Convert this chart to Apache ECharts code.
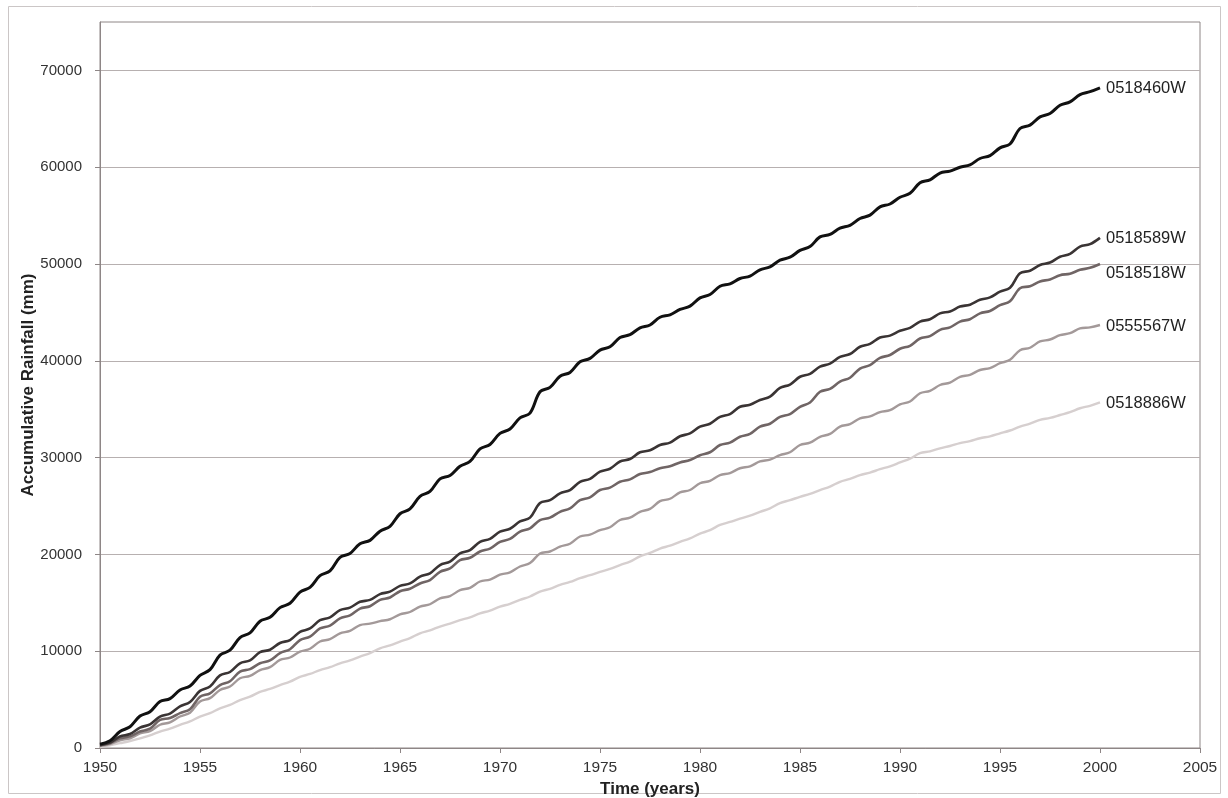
<!DOCTYPE html>
<html>
<head>
<meta charset="utf-8">
<title>Accumulative Rainfall</title>
<script src="https://cdn.jsdelivr.net/npm/echarts@6/dist/echarts.min.js"></script>
<style>
  html, body { margin: 0; padding: 0; background: #ffffff; }
  #chart { width: 1228px; height: 798px; }
</style>
</head>
<body>
<div id="chart"></div>
<script>
// Station names, in drawing order (lightest line first, darkest on top)
const stations = ['0518886W', '0555567W', '0518518W', '0518589W', '0518460W'];

// Year-end accumulative rainfall (mm), 1950 .. 2000
const years = [1950, 1951, 1952, 1953, 1954, 1955, 1956, 1957, 1958, 1959,
  1960, 1961, 1962, 1963, 1964, 1965, 1966, 1967, 1968, 1969,
  1970, 1971, 1972, 1973, 1974, 1975, 1976, 1977, 1978, 1979,
  1980, 1981, 1982, 1983, 1984, 1985, 1986, 1987, 1988, 1989,
  1990, 1991, 1992, 1993, 1994, 1995, 1996, 1997, 1998, 1999, 2000];

const yearly_0518460W = [400, 1700, 3300, 4800, 6000, 7500, 9600, 11400, 13100, 14500,
  16100, 17800, 19700, 21100, 22400, 24200, 26000, 27800, 29100, 30900,
  32500, 34100, 36800, 38400, 39900, 41100, 42400, 43400, 44500, 45300,
  46500, 47700, 48500, 49400, 50400, 51400, 52800, 53700, 54700, 55900,
  56900, 58400, 59400, 60000, 60900, 62000, 64000, 65200, 66400, 67500, 68200];
const yearly_0518589W = [300, 1200, 2100, 3250, 4300, 5900, 7500, 8750, 9900, 10850,
  12000, 13200, 14250, 15100, 15900, 16750, 17700, 18900, 20100, 21300,
  22350, 23400, 25300, 26300, 27500, 28550, 29600, 30550, 31300, 32200,
  33200, 34200, 35250, 35950, 37200, 38350, 39400, 40400, 41450, 42400,
  43100, 44050, 44900, 45600, 46300, 47150, 49050, 49900, 50750, 51800, 52700];
const yearly_0518518W = [300, 1000, 1700, 2900, 3600, 5300, 6500, 7900, 8750, 9800,
  11150, 12350, 13400, 14400, 15300, 16200, 17000, 18200, 19400, 20300,
  21300, 22350, 23550, 24400, 25600, 26650, 27500, 28300, 28900, 29500,
  30250, 31300, 32150, 33200, 34200, 35250, 36800, 37850, 39200, 40300,
  41250, 42300, 43200, 44050, 44900, 45750, 47500, 48200, 48850, 49400, 50000];
const yearly_0555567W = [200, 800, 1500, 2400, 3250, 4800, 6000, 7200, 8050, 9100,
  9950, 11000, 11850, 12700, 13100, 13800, 14600, 15450, 16300, 17200,
  17900, 18750, 20100, 20800, 21850, 22500, 23550, 24400, 25500, 26400,
  27350, 28200, 28900, 29600, 30250, 31300, 32150, 33200, 34050, 34700,
  35500, 36650, 37500, 38350, 39050, 39750, 41100, 42000, 42650, 43350, 43700];
const yearly_0518886W = [100, 500, 1000, 1700, 2400, 3250, 4100, 4950, 5800, 6500,
  7350, 8050, 8750, 9450, 10300, 11000, 11850, 12550, 13200, 13900,
  14600, 15300, 16150, 16850, 17550, 18200, 18900, 19800, 20600, 21300,
  22150, 23050, 23700, 24400, 25300, 25950, 26650, 27500, 28200, 28800,
  29500, 30450, 30950, 31500, 32000, 32500, 33200, 33900, 34400, 35100, 35700];

// Mid-year accumulative rainfall (mm), 1950.5 .. 1999.5 (end of the dry half-year)
const midYears = [1950.5, 1951.5, 1952.5, 1953.5, 1954.5, 1955.5, 1956.5, 1957.5, 1958.5, 1959.5,
  1960.5, 1961.5, 1962.5, 1963.5, 1964.5, 1965.5, 1966.5, 1967.5, 1968.5, 1969.5,
  1970.5, 1971.5, 1972.5, 1973.5, 1974.5, 1975.5, 1976.5, 1977.5, 1978.5, 1979.5,
  1980.5, 1981.5, 1982.5, 1983.5, 1984.5, 1985.5, 1986.5, 1987.5, 1988.5, 1989.5,
  1990.5, 1991.5, 1992.5, 1993.5, 1994.5, 1995.5, 1996.5, 1997.5, 1998.5, 1999.5];

const mid_0518460W = [750, 2200, 3750, 5100, 6400, 8100, 10100, 11900, 13500, 14950,
  16600, 18300, 20100, 21450, 22900, 24700, 26500, 28150, 29600, 31350,
  32950, 34600, 37250, 38800, 40250, 41450, 42700, 43700, 44750, 45650,
  46850, 47950, 48750, 49700, 50700, 51800, 53050, 54000, 55050, 56200,
  57300, 58700, 59600, 60250, 61200, 62400, 64350, 65550, 66750, 67800];
const mid_0518589W = [550, 1450, 2450, 3550, 4750, 6350, 7850, 9050, 10150, 11150,
  12350, 13500, 14500, 15300, 16150, 17000, 18050, 19250, 20450, 21600,
  22650, 23800, 25600, 26650, 27800, 28850, 29850, 30750, 31550, 32500,
  33500, 34500, 35450, 36300, 37550, 38650, 39700, 40700, 41750, 42600,
  43400, 44300, 45100, 45800, 46550, 47550, 49300, 50150, 51050, 52050];
const mid_0518518W = [500, 1200, 2000, 3100, 4000, 5650, 6900, 8150, 9050, 10200,
  11500, 12650, 13700, 14650, 15550, 16450, 17350, 18550, 19650, 20600,
  21600, 22700, 23800, 24750, 25900, 26900, 27750, 28500, 29100, 29750,
  30550, 31550, 32450, 33500, 34500, 35700, 37100, 38250, 39550, 40600,
  41550, 42550, 43450, 44300, 45150, 46150, 47700, 48400, 49000, 49600];
const mid_0555567W = [400, 1000, 1750, 2650, 3650, 5150, 6350, 7450, 8350, 9350,
  10250, 11250, 12100, 12850, 13300, 14050, 14850, 15700, 16550, 17400,
  18150, 19100, 20300, 21100, 22050, 22800, 23800, 24700, 25750, 26650,
  27600, 28400, 29100, 29800, 30550, 31550, 32450, 33450, 34250, 34900,
  35800, 36900, 37750, 38550, 39250, 40100, 41350, 42200, 42850, 43450];
const mid_0518886W = [280, 720, 1300, 2000, 2750, 3600, 4450, 5300, 6100, 6850,
  7650, 8350, 9050, 9800, 10600, 11350, 12150, 12850, 13500, 14200,
  14900, 15650, 16450, 17150, 17850, 18500, 19250, 20150, 20900, 21650,
  22500, 23350, 24000, 24750, 25600, 26250, 27000, 27800, 28450, 29100,
  29900, 30650, 31200, 31700, 32200, 32800, 33500, 34100, 34700, 35350];

// Axis tick labels
const xTicks = [1950, 1955, 1960, 1965, 1970, 1975, 1980, 1985, 1990, 1995, 2000, 2005];
const yTicks = [0, 10000, 20000, 30000, 40000, 50000, 60000, 70000];

const yearlyByStation = {
  '0518460W': yearly_0518460W, '0518589W': yearly_0518589W, '0518518W': yearly_0518518W,
  '0555567W': yearly_0555567W, '0518886W': yearly_0518886W
};
const midByStation = {
  '0518460W': mid_0518460W, '0518589W': mid_0518589W, '0518518W': mid_0518518W,
  '0555567W': mid_0555567W, '0518886W': mid_0518886W
};

// Line styling per station
const lineColor = {
  '0518460W': '#111111', '0518589W': '#3a3434', '0518518W': '#706565',
  '0555567W': '#a39999', '0518886W': '#d6cfcf'
};
const lineWidth = {
  '0518460W': 3, '0518589W': 2.6, '0518518W': 2.6, '0555567W': 2.4, '0518886W': 2.4
};
const labelOffset = {
  '0518460W': [0, 1], '0518589W': [0, 1], '0518518W': [0, 9], '0555567W': [0, 1], '0518886W': [0, 1]
};

// Interleave year-end and mid-year readings into one time-ordered list
function seriesPoints(name) {
  const ys = yearlyByStation[name], ms = midByStation[name];
  const pts = [];
  for (let i = 0; i < years.length; i++) {
    pts.push([years[i], ys[i]]);
    if (i < midYears.length) pts.push([midYears[i], ms[i]]);
  }
  return pts;
}

const FONT = '"Liberation Sans", Arial, sans-serif';
const chart = echarts.init(document.getElementById('chart'), null, { renderer: 'canvas' });

chart.setOption({
  animation: false,
  backgroundColor: '#ffffff',
  graphic: [{
    type: 'rect',
    shape: { x: 8.5, y: 6.5, width: 1212, height: 787 },
    style: { fill: 'none', stroke: '#cbc6c6', lineWidth: 1 },
    silent: true, z: -1
  }],
  grid: {
    left: 100, right: 28, top: 22, bottom: 50,
    outerBoundsMode: 'none',
    show: true, borderColor: '#8e8686', borderWidth: 1, backgroundColor: 'transparent'
  },
  xAxis: {
    type: 'value',
    min: xTicks[0], max: xTicks[xTicks.length - 1], interval: 5,
    name: 'Time (years)',
    nameLocation: 'middle', nameGap: 33, nameMoveOverlap: false,
    nameTextStyle: { fontFamily: FONT, fontWeight: 'bold', fontSize: 17, color: '#222' },
    axisLine: { show: true, lineStyle: { color: '#8e8686', width: 1 } },
    axisTick: { show: true, length: 5, lineStyle: { color: '#8e8686' } },
    axisLabel: {
      fontFamily: FONT, fontSize: 15.5, color: '#333', margin: 12,
      formatter: v => (xTicks.indexOf(v) >= 0 ? String(v) : '')
    },
    splitLine: { show: false }
  },
  yAxis: {
    type: 'value',
    min: yTicks[0], max: 75000, interval: 10000,
    name: 'Accumulative Rainfall (mm)',
    nameLocation: 'middle', nameGap: 63, nameRotate: 90, nameMoveOverlap: false,
    nameTextStyle: { fontFamily: FONT, fontWeight: 'bold', fontSize: 17, color: '#222' },
    axisLine: { show: true, lineStyle: { color: '#8e8686', width: 1 } },
    axisTick: { show: true, length: 5, customValues: yTicks, lineStyle: { color: '#8e8686' } },
    axisLabel: {
      fontFamily: FONT, fontSize: 15, color: '#333', margin: 18,
      customValues: yTicks,
      formatter: v => String(v)
    },
    splitLine: { show: true, lineStyle: { color: '#b7b0b0', width: 1 } }
  },
  series: stations.map(name => ({
    name: name,
    type: 'line',
    data: seriesPoints(name),
    showSymbol: false,
    smooth: 0.35,
    lineStyle: { color: lineColor[name], width: lineWidth[name] },
    itemStyle: { color: lineColor[name] },
    endLabel: {
      show: true,
      formatter: '{a}',
      distance: 6,
      offset: labelOffset[name],
      fontFamily: FONT, fontSize: 16.5, color: '#222'
    },
    emphasis: { disabled: true }
  }))
});
</script>
</body>
</html>
